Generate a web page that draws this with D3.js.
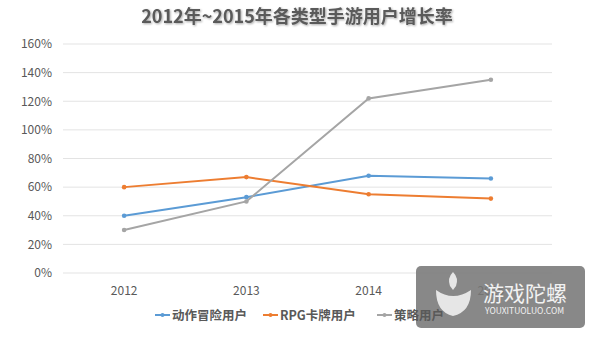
<!DOCTYPE html>
<html><head><meta charset="utf-8">
<script src="https://cdn.jsdelivr.net/npm/d3@7"></script>
<style>body{margin:0;background:#fff}svg{display:block}</style>
</head><body>
<svg id="c" width="600" height="338"></svg>
<script>
const categories = ["2012", "2013", "2014", "2015"];
const seriesNames = ["动作冒险用户", "RPG卡牌用户", "策略用户"];
const actionAdventure = [40, 53, 68, 66];
const rpgCard = [60, 67, 55, 52];
const strategy = [30, 50, 122, 135];
const yTicks = [0, 20, 40, 60, 80, 100, 120, 140, 160];
const colors = ["#5B9BD5", "#ED7D31", "#A5A5A5"];
const series = [actionAdventure, rpgCard, strategy];

const svg = d3.select("#c");
const font = "'Noto Sans CJK SC', 'Noto Sans', sans-serif";
const L = 63, R = 552, T = 44, B = 273;

const x = d3.scaleBand().domain(categories).range([L, R]);
const y = d3.scaleLinear().domain([0, 160]).range([B, T]);

// title
svg.append("text").attr("x", 297).attr("y", 23).attr("text-anchor", "middle")
  .attr("font-family", font).attr("font-weight", "bold").attr("font-size", 18)
  .attr("fill", "#5a5a5a").style("filter", "drop-shadow(1px 1px 1px rgba(0,0,0,0.35))")
  .text("2012年~2015年各类型手游用户增长率");

// grid
svg.append("g").selectAll("line").data(yTicks).join("line")
  .attr("x1", L).attr("x2", R).attr("y1", d => y(d)).attr("y2", d => y(d))
  .attr("stroke", "#e3e3e3").attr("stroke-width", 1);

// y axis labels
const yAxis = d3.axisLeft(y).tickValues(yTicks).tickFormat(d => d + "%").tickSize(0).tickPadding(11);
const gy = svg.append("g").attr("transform", `translate(${L},0)`).call(yAxis);
gy.select(".domain").remove();
gy.selectAll("text").attr("font-family", font).attr("font-size", 12).attr("fill", "#595959");

// x axis labels
const xAxis = d3.axisBottom(x).tickSize(0).tickPadding(13);
const gx = svg.append("g").attr("transform", `translate(0,${B})`).call(xAxis);
gx.select(".domain").remove();
gx.selectAll("text").attr("font-family", font).attr("font-size", 12).attr("fill", "#595959");

const cx = d => x(d) + x.bandwidth() / 2;
const line = d3.line().x((d, i) => cx(categories[i])).y(d => y(d));

series.forEach((s, k) => {
  svg.append("path").datum(s).attr("d", line).attr("fill", "none")
    .attr("stroke", colors[k]).attr("stroke-width", 2);
  svg.append("g").selectAll("circle").data(s).join("circle")
    .attr("cx", (d, i) => cx(categories[i])).attr("cy", d => y(d)).attr("r", 2.3)
    .attr("fill", colors[k]);
});

// watermark (semi-transparent, as in the reference)
const wm = svg.append("g");
wm.append("rect").attr("x", 416).attr("y", 266).attr("width", 169).attr("height", 62)
  .attr("rx", 5).attr("fill", "#787878").attr("opacity", 0.88);
wm.append("path").attr("d", "M436,290 Q453,302 471,290 Q471,312 453,316 Q436,312 436,290 Z").attr("fill", "#e6e6e6");
wm.append("path").attr("d", "M453,272 Q459,278 456,286 L453,290 L450,286 Q447,278 453,272 Z").attr("fill", "#e6e6e6");
wm.append("text").attr("x", 483).attr("y", 301).attr("font-family", font)
  .attr("font-size", 21).attr("fill", "#f2f2f2").text("游戏陀螺");
wm.append("text").attr("x", 485).attr("y", 314).attr("font-family", font)
  .attr("font-size", 8.5).attr("fill", "#f2f2f2").text("YOUXITUOLUO.COM");

// legend (drawn on top)
const legendX = [155, 263, 377];
seriesNames.forEach((n, k) => {
  const g = svg.append("g").attr("transform", `translate(${legendX[k]},315)`);
  g.append("line").attr("x1", 0).attr("x2", 15).attr("y1", 0).attr("y2", 0)
    .attr("stroke", colors[k]).attr("stroke-width", 2);
  g.append("circle").attr("cx", 7.5).attr("cy", 0).attr("r", 2).attr("fill", colors[k]);
  g.append("text").attr("x", 17).attr("y", 4.5).attr("font-family", font)
    .attr("font-weight", "bold").attr("font-size", 12.5).attr("fill", "#595959").text(n);
});
</script>
</body></html>
